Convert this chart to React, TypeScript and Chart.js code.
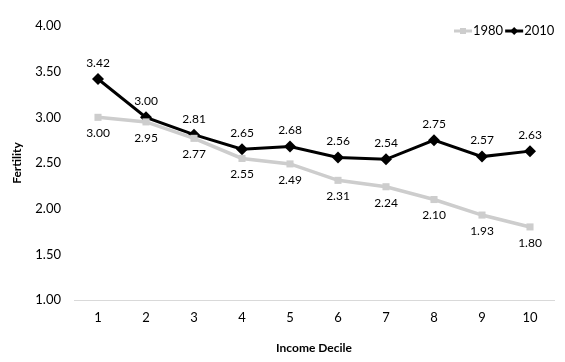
import React, { useEffect, useRef } from "react";
import { Chart, registerables } from "chart.js";

Chart.register(...registerables);

const categories = ["1", "2", "3", "4", "5", "6", "7", "8", "9", "10"];
const series1980 = [3.0, 2.95, 2.77, 2.55, 2.49, 2.31, 2.24, 2.1, 1.93, 1.8];
const series2010 = [3.42, 3.0, 2.81, 2.65, 2.68, 2.56, 2.54, 2.75, 2.57, 2.63];
const seriesNames = ["1980", "2010"];
const color1980 = "#cdcdcd";
const color2010 = "#000000";
const FONT = "Lato, 'Open Sans', sans-serif";

const labelPlugin = {
  id: "pointLabels",
  afterDatasetsDraw(chart: any) {
    const ctx = chart.ctx;
    ctx.save();
    ctx.font = `12px ${FONT}`;
    ctx.fillStyle = "#000";
    ctx.textAlign = "center";
    ctx.textBaseline = "middle";
    chart.data.datasets.forEach((ds: any, i: number) => {
      const meta = chart.getDatasetMeta(i);
      meta.data.forEach((pt: any, j: number) => {
        const v = ds.data[j] as number;
        const dy = i === 1 ? -16 : 16;
        ctx.fillText(v.toFixed(2), pt.x, pt.y + dy);
      });
    });
    ctx.restore();
  },
};

const legendPlugin = {
  id: "customLegend",
  afterDraw(chart: any) {
    const ctx = chart.ctx;
    ctx.save();
    ctx.font = `13px ${FONT}`;
    ctx.textBaseline = "middle";
    ctx.textAlign = "left";
    const y = 31;
    let x = 454;
    const items = [
      { name: seriesNames[0], color: color1980, style: "rect" },
      { name: seriesNames[1], color: color2010, style: "diamond" },
    ];
    items.forEach((it) => {
      ctx.strokeStyle = it.color;
      ctx.lineWidth = 3;
      ctx.beginPath();
      ctx.moveTo(x, y);
      ctx.lineTo(x + 18, y);
      ctx.stroke();
      ctx.fillStyle = it.color;
      const cx = x + 9;
      if (it.style === "rect") {
        ctx.fillRect(cx - 3, y - 3, 6, 6);
      } else {
        ctx.beginPath();
        ctx.moveTo(cx, y - 4);
        ctx.lineTo(cx + 4, y);
        ctx.lineTo(cx, y + 4);
        ctx.lineTo(cx - 4, y);
        ctx.closePath();
        ctx.fill();
      }
      ctx.fillStyle = "#000";
      ctx.fillText(it.name, x + 19, y);
      x += 19 + ctx.measureText(it.name).width + 2;
    });
    ctx.restore();
  },
};

export default function App() {
  const ref = useRef<HTMLCanvasElement | null>(null);
  useEffect(() => {
    document.body.style.margin = "0";
    const chart = new Chart(ref.current as HTMLCanvasElement, {
      type: "line",
      data: {
        labels: categories,
        datasets: [
          {
            label: seriesNames[0],
            data: series1980,
            borderColor: color1980,
            backgroundColor: color1980,
            borderWidth: 3.5,
            pointStyle: "rect",
            pointRadius: 5,
            pointBorderWidth: 0,
            tension: 0,
          },
          {
            label: seriesNames[1],
            data: series2010,
            borderColor: color2010,
            backgroundColor: color2010,
            borderWidth: 3,
            pointStyle: "rectRot",
            pointRadius: 6,
            pointBorderWidth: 0,
            tension: 0,
          },
        ],
      },
      options: {
        animation: false,
        responsive: false,
        maintainAspectRatio: false,
        layout: { padding: { left: 0, right: 11, top: 26, bottom: 0 } },
        plugins: {
          legend: { display: false },
          tooltip: { enabled: false },
        },
        scales: {
          x: {
            offset: true,
            grid: { display: false, drawTicks: false },
            border: { display: true, color: "#d9d9d9", width: 1 },
            ticks: { color: "#000", font: { family: FONT, size: 13 }, padding: 10 },
            title: {
              display: true,
              text: "Income Decile",
              color: "#000",
              font: { family: FONT, size: 12, weight: "bold" },
              padding: { top: 12, bottom: 7 },
            },
            afterFit(scale: any) {
              scale.height = 62;
            },
          },
          y: {
            min: 1,
            max: 4,
            grid: { display: false, drawTicks: false },
            border: { display: false },
            ticks: {
              stepSize: 0.5,
              color: "#000",
              font: { family: FONT, size: 13 },
              padding: 13,
              callback: (v: any) => Number(v).toFixed(2),
            },
            title: {
              display: true,
              text: "Fertility",
              color: "#000",
              font: { family: FONT, size: 12, weight: "bold" },
              padding: { top: 10, bottom: 8 },
            },
            afterFit(scale: any) {
              scale.width = 74;
            },
          },
        },
      },
      plugins: [labelPlugin, legendPlugin],
    });
    return () => chart.destroy();
  }, []);
  return (
    <div style={{ width: 565, height: 362 }}>
      <canvas ref={ref} width={565} height={362} style={{ width: 565, height: 362 }} />
    </div>
  );
}
